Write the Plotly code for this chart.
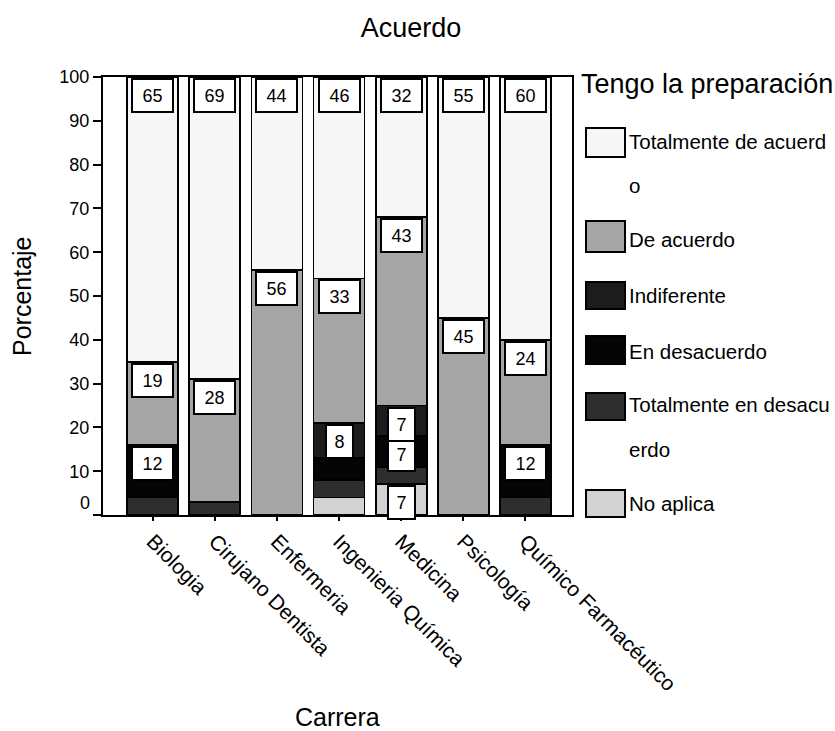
import plotly.graph_objects as go

# ---- data ----
carreras = ["Biologia", "Cirujano Dentista", "Enfermeria", "Ingenieria Química",
            "Medicina", "Psicología", "Químico Farmacéutico"]
tot_acuerdo = [65, 69, 44, 46, 32, 55, 60]
de_acuerdo = [19, 28, 56, 33, 43, 45, 24]
indiferente = [0, 0, 0, 8, 7, 0, 0]
en_desacuerdo = [12, 0, 0, 5, 7, 0, 12]
tot_desacuerdo = [4, 3, 0, 4, 4, 0, 4]
no_aplica = [0, 0, 0, 4, 7, 0, 0]
y_ticks = list(range(0, 101, 10))

# stacking order bottom -> top
series = [
    ("No aplica", no_aplica, "#d2d2d2"),
    ("Totalmente en desacuerdo", tot_desacuerdo, "#2e2e2e"),
    ("En desacuerdo", en_desacuerdo, "#050505"),
    ("Indiferente", indiferente, "#1c1c1c"),
    ("De acuerdo", de_acuerdo, "#a5a5a5"),
    ("Totalmente de acuerdo", tot_acuerdo, "#f6f6f6"),
]

FONT = "Liberation Sans, Arial, sans-serif"
L, R, T, B = 103, 263, 77, 216
W, H = 835, 731
PW, PH = W - L - R, H - T - B

def px_x(px):
    return (px - L) / PW

def px_y(py):
    return (H - B - py) / PH

fig = go.Figure()
for name, vals, col in series:
    fig.add_trace(go.Bar(
        x=carreras, y=vals, name=name,
        marker=dict(color=col, line=dict(color="black", width=1.8)),
        showlegend=False, hoverinfo="x+y+name",
    ))

# value labels: boxed, placed at the top of each segment
annotations = []
cum = [0] * len(carreras)
for name, vals, col in series:
    for i, v in enumerate(vals):
        cum[i] += v
        if v >= 6:
            txt = str(v)
            annotations.append(dict(
                x=carreras[i], y=cum[i], xref="x", yref="y",
                text=txt, showarrow=False, yanchor="top", xanchor="center",
                yshift=-1,
                width=37 if len(txt) > 1 else 23, height=29,
                bgcolor="white", bordercolor="black", borderwidth=2, borderpad=1,
                font=dict(size=18, color="black", family=FONT),
            ))

# "0" tick label shifted upward as in reference
annotations.append(dict(
    x=px_x(92), y=0, xref="paper", yref="y", text="0", showarrow=False,
    xanchor="right", yanchor="middle", yshift=12,
    font=dict(size=18, color="black", family=FONT)))

# axis titles
annotations.append(dict(
    x=px_x(22), y=0.5, xref="paper", yref="paper", text="Porcentaje",
    textangle=-90, showarrow=False, xanchor="center", yanchor="middle",
    font=dict(size=25, color="black", family=FONT)))
annotations.append(dict(
    x=px_x(337), y=px_y(717), xref="paper", yref="paper", text="Carrera",
    showarrow=False, xanchor="center", yanchor="middle",
    font=dict(size=25, color="black", family=FONT)))

# manual legend
shapes = []
annotations.append(dict(
    x=px_x(579), y=px_y(84), xref="paper", yref="paper",
    text="Tengo la preparación", showarrow=False, xanchor="left", yanchor="middle",
    font=dict(size=27, color="black", family=FONT)))

legend_items = [
    ("Totalmente de acuerdo", ["Totalmente de acuerd", "o"], [141, 185], (128, 157)),
    ("De acuerdo", ["De acuerdo"], [239], (221, 252)),
    ("Indiferente", ["Indiferente"], [295], (282, 309)),
    ("En desacuerdo", ["En desacuerdo"], [351], (336, 364)),
    ("Totalmente en desacuerdo", ["Totalmente en desacu", "erdo"], [404, 449], (393, 420)),
    ("No aplica", ["No aplica"], [503], (490, 517)),
]
color_of = {n: c for n, _, c in series}
for name, lines, ys, (y0, y1) in legend_items:
    shapes.append(dict(
        type="rect", xref="paper", yref="paper",
        x0=px_x(586), x1=px_x(625), y0=px_y(y1), y1=px_y(y0),
        fillcolor=color_of[name], line=dict(color="black", width=2)))
    for ln, yy in zip(lines, ys):
        annotations.append(dict(
            x=px_x(627), y=px_y(yy), xref="paper", yref="paper",
            text=ln, showarrow=False, xanchor="left", yanchor="middle",
            font=dict(size=20.5, color="black", family=FONT)))

fig.update_layout(
    width=W, height=H,
    margin=dict(l=L, r=R, t=T, b=B),
    barmode="stack", bargap=0.18,
    paper_bgcolor="white", plot_bgcolor="white",
    font=dict(family=FONT, color="black"),
    title=dict(text="Acuerdo", x=411 / W, y=1 - 28 / H, xanchor="center",
               yanchor="middle", font=dict(size=27, color="black", family=FONT)),
    annotations=annotations, shapes=shapes,
)
fig.update_xaxes(
    range=[-0.8, 6.75], showline=True, linecolor="black", linewidth=2, mirror=True,
    ticks="outside", ticklen=4, tickwidth=2, tickcolor="black",
    tickangle=45, tickfont=dict(size=21, color="black", family=FONT),
    showgrid=False,
)
fig.update_yaxes(
    range=[0, 100], tickvals=y_ticks,
    ticktext=[("" if v == 0 else str(v)) for v in y_ticks],
    showline=True, linecolor="black", linewidth=2, mirror=True,
    ticks="outside", ticklen=8, tickwidth=2, tickcolor="black",
    tickfont=dict(size=18, color="black", family=FONT),
    showgrid=False, zeroline=False,
)

fig.write_html("out.html")
